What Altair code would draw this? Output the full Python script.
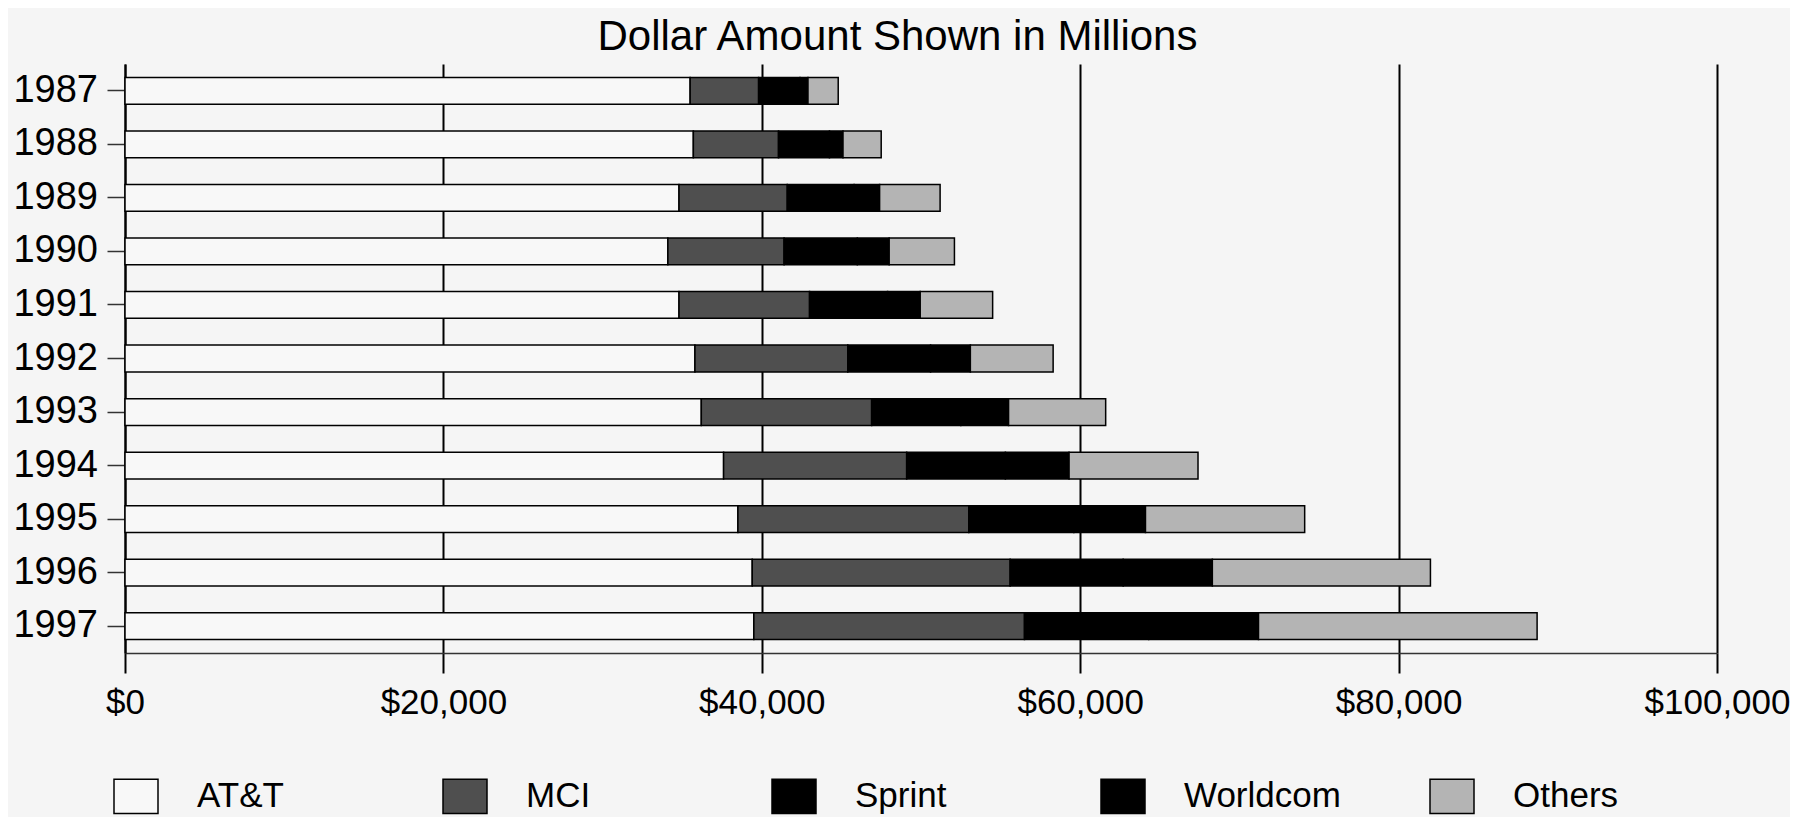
import altair as alt
import pandas as pd

years = ["1987", "1988", "1989", "1990", "1991", "1992", "1993", "1994", "1995", "1996", "1997"]
carriers = ["AT&T", "MCI", "Sprint", "Worldcom", "Others"]

att = [35.5, 35.7, 34.8, 34.1, 34.8, 35.8, 36.2, 37.6, 38.5, 39.4, 39.5]
mci = [4.3, 5.35, 6.8, 7.3, 8.2, 9.6, 10.7, 11.5, 14.5, 16.2, 17.0]
sprint = [2.6, 3.2, 4.2, 4.6, 4.9, 5.2, 5.6, 6.2, 6.6, 7.1, 7.8]
worldcom = [0.5, 0.85, 1.6, 2.0, 2.05, 2.5, 3.0, 4.0, 4.5, 5.6, 6.9]
others = [1.9, 2.4, 3.8, 4.1, 4.55, 5.2, 6.1, 8.1, 10.0, 13.7, 17.5]

series = [att, mci, sprint, worldcom, others]
colors = ["#f8f8f8", "#4f4f4f", "#000000", "#000000", "#b4b4b4"]

rows = []
for ci, (name, vals) in enumerate(zip(carriers, series)):
    for y, v in zip(years, vals):
        rows.append({"year": y, "carrier": name, "ord": ci, "value": v * 1000})
df = pd.DataFrame(rows)

FONT = "Liberation Sans"
# rectangle symbol: 44 wide, ~34 tall
RECT = "M-1,-0.78H1V0.78H-1Z"

chart = alt.Chart(df).mark_bar(stroke="#000000", strokeWidth=1.5).encode(
    y=alt.Y("year:N", sort=years,
            scale=alt.Scale(paddingInner=0.5, paddingOuter=0.25),
            axis=alt.Axis(title=None, labelFont=FONT, labelFontSize=38, labelColor="#000",
                          tickSize=18, tickWidth=1.5, tickColor="#333", labelPadding=9.5,
                          domainColor="#000", domainWidth=2)),
    x=alt.X("value:Q",
            scale=alt.Scale(domain=[0, 100000], nice=False),
            axis=alt.Axis(title=None, values=[0, 20000, 40000, 60000, 80000, 100000],
                          format="$,.0f", labelFont=FONT, labelFontSize=35, labelColor="#000",
                          tickSize=20, tickWidth=2, tickColor="#000", labelPadding=12,
                          grid=True, gridColor="#000", gridWidth=2, gridOpacity=1,
                          domainColor="#333", domainWidth=1.5, labelFlush=False)),
    color=alt.Color("carrier:N", sort=carriers,
                    scale=alt.Scale(domain=carriers, range=colors),
                    legend=alt.Legend(title=None, orient="none", legendX=-12, legendY=709,
                                      direction="horizontal", columns=5, gridAlign="all",
                                      columnPadding=86, symbolType=RECT, symbolSize=1936,
                                      symbolStrokeColor="#000", symbolStrokeWidth=1.5,
                                      symbolOpacity=1, labelFont=FONT, labelFontSize=35,
                                      labelColor="#000", labelOffset=38, labelLimit=400,
                                      padding=0)),
    order=alt.Order("ord:Q", sort="ascending"),
    tooltip=["year", "carrier", "value"],
).properties(
    width=1592,
    height=589,
    background="#f5f5f5",
    padding={"left": 4, "top": 8, "right": 0, "bottom": 0},
    title=alt.TitleParams("Dollar Amount Shown in Millions", font=FONT, fontSize=42,
                          fontWeight="normal", color="#000", anchor="middle",
                          frame="bounds", offset=5, dx=-4),
).configure_view(stroke=None)

chart.save("out.html", embed_options={"renderer": "svg", "actions": False})
